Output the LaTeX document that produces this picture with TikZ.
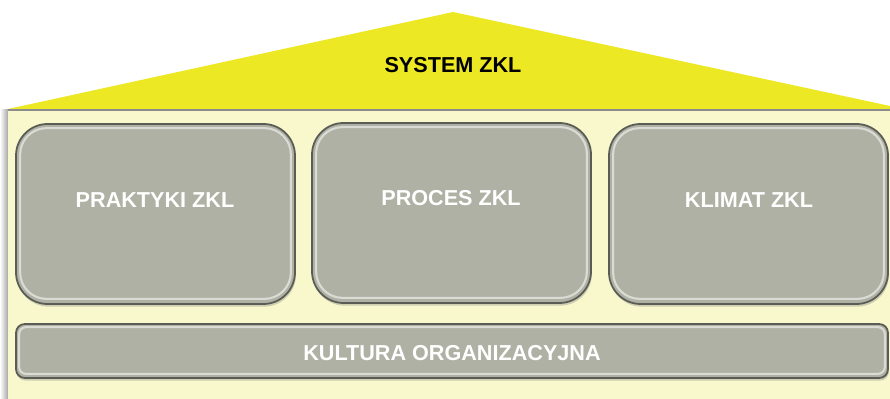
\documentclass[tikz,border=0pt]{standalone}
\usepackage{fontspec}
\setmainfont{Liberation Sans}
\usetikzlibrary{shadows}

\definecolor{dach}{HTML}{ECE824}
\definecolor{tlo}{HTML}{F8F8CC}
\definecolor{szary}{HTML}{AEB1A3}
\definecolor{ramka}{HTML}{5A5C55}

\tikzset{
  filar/.style={draw=ramka, line width=1pt, fill=szary, rounded corners=18pt,
    minimum width=5.58cm, minimum height=3.6cm,
    drop shadow={shadow xshift=0.5pt, shadow yshift=-1.5pt, opacity=0.35}},
  belka/.style={draw=ramka, line width=1pt, fill=szary, rounded corners=5pt,
    drop shadow={shadow xshift=0.5pt, shadow yshift=-1.5pt, opacity=0.35}},
  blask/.style={draw=white, draw opacity=0.55, line width=1.2pt, inner sep=0pt},
  napis/.style={text=white, font=\bfseries\fontsize{12.3}{14}\selectfont},
}

\begin{document}
\begin{tikzpicture}
    \useasboundingbox (0, 0) rectangle (17.8, -7.98);

    % Dach
    \fill[dach] (0.16, -2.18) -- (9.06, -0.24) -- (17.8, -2.12) -- (17.8, -2.2) -- (0.16, -2.2) -- cycle;
    \node[font=\bfseries\fontsize{12.3}{14}\selectfont] (system) at (9.06, -1.3) {SYSTEM ZKL};

    % Tlo budynku
    \shade[left color=white, right color=black!35] (0, -2.2) rectangle (0.16, -7.98);
    \fill[tlo] (0.16, -2.2) rectangle (17.8, -7.98);
    \draw[black!45, line width=1.2pt] (0.16, -2.2) -- (17.8, -2.2);

    % Filary
    \node[filar] (praktyki) at (3.11, -4.28) {};
    \node[filar] (proces) at (9.03, -4.26) {};
    \node[filar] (klimat) at (14.97, -4.28) {};
    \foreach \f in {praktyki, proces, klimat}
        \draw[blask, rounded corners=15pt] ([shift={(0.1, -0.1)}]\f.north west) rectangle ([shift={(-0.1, 0.12)}]\f.south east);
    \node[napis] (tpraktyki) at (3.1, -4.0) {PRAKTYKI ZKL};
    \node[napis] (tproces) at (9.02, -3.96) {PROCES ZKL};
    \node[napis] (tklimat) at (14.98, -4.0) {KLIMAT ZKL};

    % Fundament
    \node[belka, minimum width=17.44cm, minimum height=1.08cm] (kultura) at (9.04, -7.02) {};
    \draw[blask, rounded corners=4pt] ([shift={(0.08, -0.08)}]kultura.north west) rectangle ([shift={(-0.08, 0.1)}]kultura.south east);
    \node[napis] (tkultura) at (9.04, -7.06) {KULTURA ORGANIZACYJNA};
\end{tikzpicture}
\end{document}
